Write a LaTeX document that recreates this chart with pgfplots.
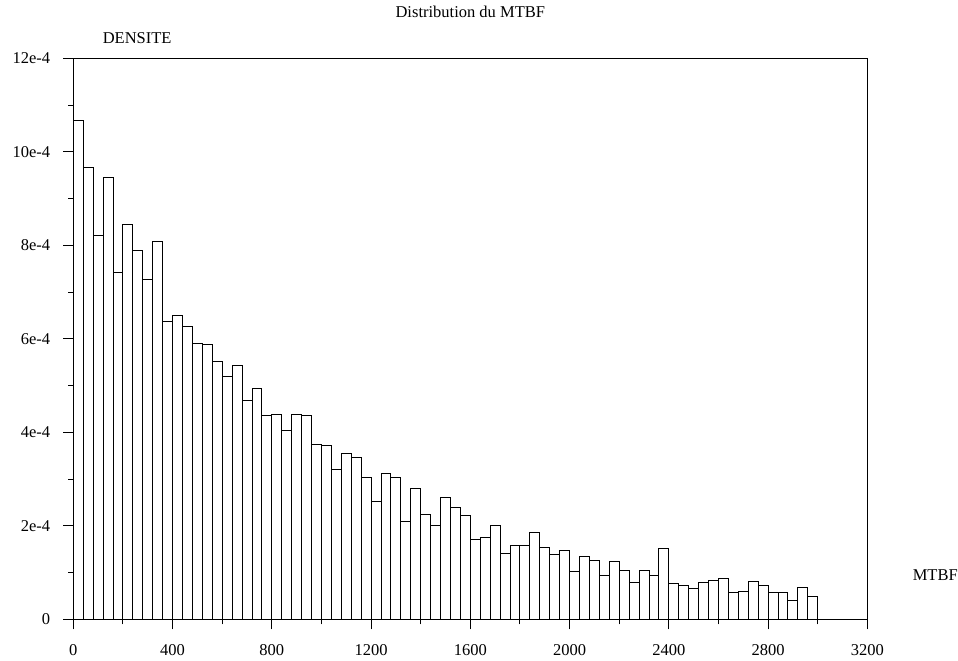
\documentclass[border=0pt]{standalone}
\usepackage{fontspec}
\setmainfont{Liberation Serif}
\usepackage{pgfplots}
\pgfplotsset{compat=1.18}
\begin{document}
\begin{tikzpicture}[font=\fontsize{16.5bp}{19bp}\selectfont]
\begin{axis}[
  scale only axis,
  width=794bp, height=561bp,
  xmin=0, xmax=3200, ymin=0, ymax=12,
  axis line style={black, line width=1bp},
  xtick={0,400,...,3200},
  xticklabels={0,400,800,1200,1600,2000,2400,2800,3200},
  minor x tick num=1,
  ytick={0,2,...,12},
  yticklabels={0,2e-4,4e-4,6e-4,8e-4,10e-4,12e-4},
  minor y tick num=1,
  tick align=outside,
  xtick pos=left, ytick pos=left,
  major tick length=10bp, minor tick length=5bp,
  tick style={black, line width=1bp},
  yticklabel style={inner sep=0pt, xshift=-13bp},
  xticklabel style={inner sep=0pt, yshift=-15bp},
  clip=false,
]
\addplot[ybar interval=1, draw=black, fill=white, line width=0.9bp] coordinates {
(0,10.66) (40,9.66) (80,8.20) (120,9.46) (160,7.41) (200,8.45) (240,7.89) (280,7.26)
(320,8.08) (360,6.37) (400,6.49) (440,6.26) (480,5.90) (520,5.87) (560,5.51) (600,5.19)
(640,5.42) (680,4.69) (720,4.94) (760,4.37) (800,4.38) (840,4.05) (880,4.38) (920,4.36)
(960,3.74) (1000,3.71) (1040,3.21) (1080,3.54) (1120,3.46) (1160,3.04) (1200,2.53) (1240,3.11)
(1280,3.03) (1320,2.09) (1360,2.80) (1400,2.25) (1440,2.00) (1480,2.61) (1520,2.40) (1560,2.22)
(1600,1.70) (1640,1.75) (1680,2.00) (1720,1.41) (1760,1.57) (1800,1.57) (1840,1.85) (1880,1.54)
(1920,1.38) (1960,1.48) (2000,1.02) (2040,1.34) (2080,1.25) (2120,0.93) (2160,1.23) (2200,1.04)
(2240,0.78) (2280,1.04) (2320,0.93) (2360,1.51) (2400,0.77) (2440,0.73) (2480,0.65) (2520,0.79)
(2560,0.84) (2600,0.87) (2640,0.57) (2680,0.60) (2720,0.81) (2760,0.73) (2800,0.57) (2840,0.57)
(2880,0.40) (2920,0.68) (2960,0.48) (3000,0.48)
};
\coordinate (O) at (rel axis cs:0,0);
\node[anchor=center] at ([yshift=46bp]rel axis cs:0.5,1) {Distribution du MTBF};
\node[anchor=west] at ([xshift=26bp,yshift=20bp]rel axis cs:0,1) {DENSITE};
\node[anchor=west] at ([xshift=42bp,yshift=44bp]rel axis cs:1,0) {MTBF};
\end{axis}
\pgfresetboundingbox
\path[use as bounding box] ([shift={(-73.3bp,-41.7bp)}]O) rectangle ++(958bp,661bp);
\end{tikzpicture}
\end{document}
